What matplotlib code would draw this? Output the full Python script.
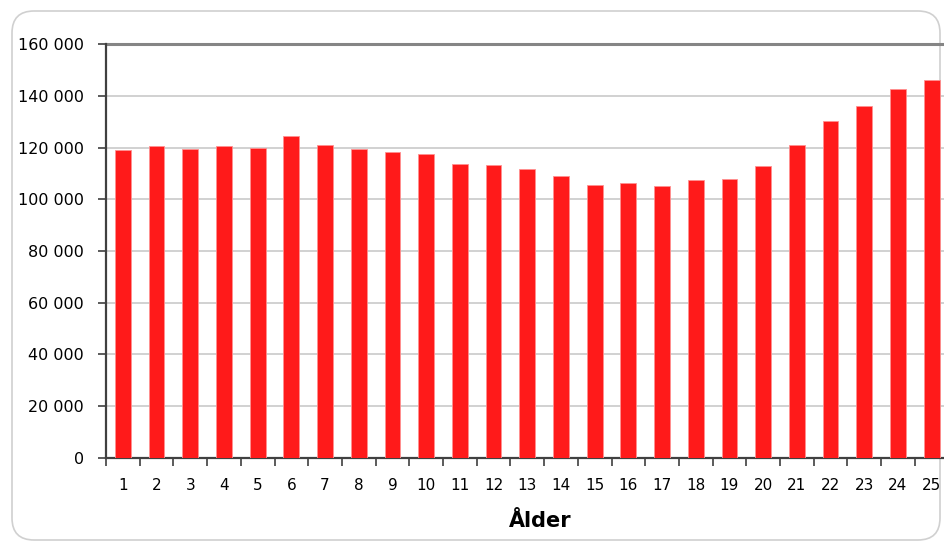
"""Bar chart: antal per ålder 1-25"""
import matplotlib
matplotlib.use('Agg')
import matplotlib.pyplot as plt
from matplotlib.patches import FancyBboxPatch
from matplotlib.ticker import FuncFormatter, FixedLocator

ages = list(range(1, 26))
counts = [119000, 120700, 119600, 120700, 119900, 124400, 121200, 119600, 118300, 117500,
          113800, 113400, 111900, 109200, 105400, 106400, 105200, 107400, 107800, 112800,
          120900, 130300, 136000, 142600, 146200]
y_ticks = [0, 20000, 40000, 60000, 80000, 100000, 120000, 140000, 160000]

fig = plt.figure(figsize=(9.44, 5.42), dpi=100)

# rounded chart-area frame (pixel coordinates)
frame = FancyBboxPatch((12, 2), 928, 529, boxstyle='round,pad=0,rounding_size=22',
                       transform=None, facecolor='white', edgecolor='#d0d0d0',
                       linewidth=1.2, zorder=-10)
fig.patches.append(frame)

ax = fig.add_axes([106 / 944, 1 - 457.5 / 542, 842.5 / 944, 413 / 542])
ax.patch.set_alpha(0)

ax.bar(ages, counts, width=0.47, color='#ff1a1a', edgecolor='#ff9090', linewidth=0.6, zorder=3)

ax.set_xlim(0.5, 25.5)
ax.set_ylim(0, 160000)
ax.set_yticks(y_ticks)
ax.yaxis.set_major_formatter(FuncFormatter(lambda v, p: f'{int(v):,}'.replace(',', ' ')))

for v in y_ticks[1:-1]:
    ax.axhline(v, color='#cacaca', linewidth=1.2, zorder=1)
ax.axhline(160000, color='#858585', linewidth=2.2, zorder=2, clip_on=False)

# category labels in the middle, tick marks between categories
ax.xaxis.set_major_locator(FixedLocator([a + 0.5 for a in [0] + ages]))
ax.xaxis.set_minor_locator(FixedLocator(ages))
ax.set_xticklabels([])
ax.set_xticklabels([str(a) for a in ages], minor=True)
ax.tick_params(axis='x', which='major', direction='out', length=6, width=1.2, color='#404040')
ax.tick_params(axis='x', which='minor', length=0, pad=15, labelsize=11)
ax.tick_params(axis='y', direction='out', length=6, width=1.2, color='#404040', labelsize=11.5, pad=10)

for s in ['top', 'right']:
    ax.spines[s].set_visible(False)
ax.spines['left'].set_color('#404040')
ax.spines['left'].set_linewidth(1.6)
ax.spines['bottom'].set_color('#404040')
ax.spines['bottom'].set_linewidth(1.6)

fig.text(540 / 944, 1 - 521 / 542, 'Ålder', ha='center', va='center',
         fontsize=15, fontweight='bold')

plt.savefig('out.png', dpi=100)
plt.close()
